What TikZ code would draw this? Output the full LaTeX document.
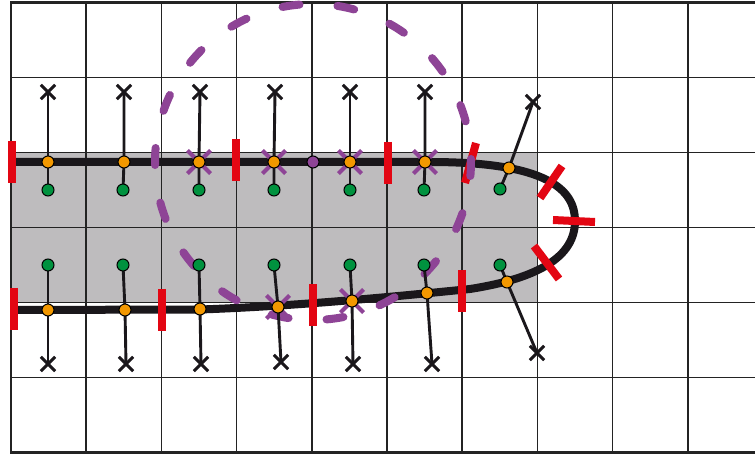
\documentclass[tikz,border=0pt]{standalone}
\usetikzlibrary{shapes.misc,calc}
\definecolor{cgray}{RGB}{190,188,190}
\definecolor{corange}{RGB}{243,152,0}
\definecolor{cgreen}{RGB}{0,146,63}
\definecolor{cred}{RGB}{227,6,19}
\definecolor{cpurple}{RGB}{142,68,150}
\definecolor{cblack}{RGB}{26,23,27}
\definecolor{cgrid}{RGB}{35,35,35}
\begin{document}
\begin{tikzpicture}[x=1pt,y=-1pt,
  gridline/.style={line width=1.7pt, draw=cgrid},
  border/.style={line width=2.3pt, draw=cgrid},
  curve/.style={line width=8pt, draw=cblack},
  redtick/.style={line width=8pt, draw=cred},
  pdash/.style={line width=8pt, draw=cpurple, line cap=round},
  stem/.style={line width=2.9pt, draw=cblack},
  dotbase/.style={circle, draw=black, line width=1pt, minimum size=12pt, inner sep=0pt},
  odot/.style={dotbase, fill=corange},
  gdot/.style={dotbase, fill=cgreen},
  pdot/.style={dotbase, fill=cpurple},
  xmark/.style={cross out, draw=cblack, line width=2.9pt, minimum size=11.5pt, inner sep=0pt},
  pxmark/.style={cross out, draw=cpurple, line width=4.2pt, minimum size=19pt, inner sep=0pt}]
\useasboundingbox (0,0) rectangle (755,454);
\clip (0,0) rectangle (755,454);
\fill[white] (0,0) rectangle (755,454);
% grey band
\fill[cgray] (11,152.5) rectangle (537.4,302.5);
% grid
\foreach \i in {1,...,9} \draw[gridline] ({11+75.2*\i},2.5) -- ({11+75.2*\i},452.5);
\foreach \j in {1,...,5} \draw[gridline] (11,{2.5+75*\j}) -- (760,{2.5+75*\j});
\draw[border] (760,2.5) -- (11,2.5) -- (11,452.5) -- (760,452.5);
% thick curve
\draw[curve] (11,162) -- (430,162) .. controls (548,162) and (575,190) .. (575,221)
  .. controls (575,256) and (540,278) .. (470,289)
  .. controls (400,296) and (300,306) .. (200,309.5) -- (11,310);
% red ticks
\draw[redtick] (12,141) -- (12,183);
\draw[redtick] (235.5,139) -- (235.5,181);
\draw[redtick] (388,142) -- (388,184);
\draw[redtick] (465,183) -- (476,143);
\draw[redtick] (540,198) -- (562,166);
\draw[redtick] (553,220) -- (595,222);
\draw[redtick] (534,246) -- (559,279);
\draw[redtick] (14,288) -- (14,330);
\draw[redtick] (162,289) -- (162,331);
\draw[redtick] (313,284) -- (313,326);
\draw[redtick] (462,270) -- (462,312);
% purple dashed circle
\coordinate (c) at (313,162);
\foreach \a in {2,22,...,342}
  \draw[pdash] ($(c)+({\a-3.1}:158)$) arc[start angle={\a-3.1}, delta angle=6.2, radius=158];
% coordinates
\coordinate (xt1) at (48,92);  \coordinate (ot1) at (48,162);  \coordinate (gt1) at (48,190);
\coordinate (xt2) at (124,92); \coordinate (ot2) at (124,162); \coordinate (gt2) at (123,190);
\coordinate (xt3) at (200,92); \coordinate (ot3) at (199,162); \coordinate (gt3) at (199,190);
\coordinate (xt4) at (275,92); \coordinate (ot4) at (274,162); \coordinate (gt4) at (274,190);
\coordinate (xt5) at (350,92); \coordinate (ot5) at (350,162); \coordinate (gt5) at (350,190);
\coordinate (xt6) at (425,92); \coordinate (ot6) at (425,162); \coordinate (gt6) at (424,190);
\coordinate (xt7) at (533,102); \coordinate (ot7) at (509,168); \coordinate (gt7) at (500,189);
\coordinate (gb1) at (48,265);  \coordinate (ob1) at (48,310);  \coordinate (xb1) at (48,364);
\coordinate (gb2) at (123,265); \coordinate (ob2) at (125,310); \coordinate (xb2) at (126,364);
\coordinate (gb3) at (199,265); \coordinate (ob3) at (200,309); \coordinate (xb3) at (201,364);
\coordinate (gb4) at (274,265); \coordinate (ob4) at (278,307); \coordinate (xb4) at (281,362);
\coordinate (gb5) at (350,265); \coordinate (ob5) at (352,301); \coordinate (xb5) at (353,364);
\coordinate (gb6) at (424,265); \coordinate (ob6) at (427,293); \coordinate (xb6) at (432,364);
\coordinate (gb7) at (500,265); \coordinate (ob7) at (507,282); \coordinate (xb7) at (537,353);
% purple crosses
\foreach \n in {ot3,ot4,ot5,ot6,ob4,ob5} \node[pxmark] (P\n) at (\n) {};
% stems
\foreach \i in {1,...,7} {
  \draw[stem] (xt\i) -- (ot\i) -- (gt\i);
  \draw[stem] (gb\i) -- (ob\i) -- (xb\i);
}
% marks and dots
\foreach \i in {1,...,7} {
  \node[xmark] (XT\i) at (xt\i) {};
  \node[xmark] (XB\i) at (xb\i) {};
  \node[odot] (OT\i) at (ot\i) {};
  \node[odot] (OB\i) at (ob\i) {};
  \node[gdot] (GT\i) at (gt\i) {};
  \node[gdot] (GB\i) at (gb\i) {};
}
\node[pdot] (center) at (c) {};
\end{tikzpicture}
\end{document}
